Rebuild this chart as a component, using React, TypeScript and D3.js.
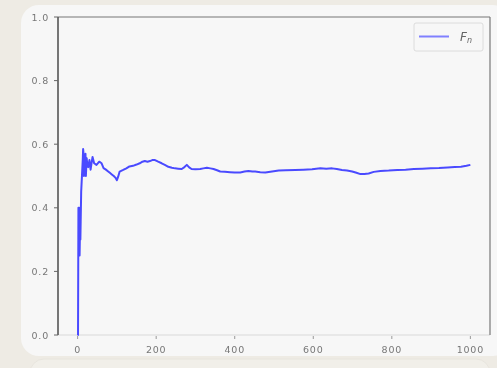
import * as d3 from 'd3';
import React from 'react';

// trial count n and running proportion F_n
const trialN = [0, 1, 2, 3, 4, 5, 6, 7, 9, 11, 13, 14, 15, 16, 17, 18, 20, 21, 23, 25, 27, 30, 33, 36, 38, 42, 48, 55, 61, 66, 72, 77, 82, 87, 92, 96, 100, 103, 107, 116, 124, 132, 141, 150, 158, 165, 171, 178, 184, 190, 197, 205, 214, 222, 231, 240, 248, 256, 265, 272, 278, 284, 290, 300, 312, 320, 329, 338, 346, 355, 363, 375, 388, 400, 414, 425, 435, 445, 452, 465, 478, 495, 512, 530, 554, 575, 597, 618, 633, 648, 660, 673, 686, 699, 710, 720, 730, 741, 754, 771, 792, 814, 835, 856, 878, 899, 920, 942, 960, 976, 990, 1000];
const runningMean = [0, 0, 0.4, 0.25, 0.4, 0.25, 0.33, 0.3, 0.45, 0.5, 0.55, 0.585, 0.57, 0.5, 0.56, 0.52, 0.57, 0.5, 0.556, 0.53, 0.528, 0.55, 0.52, 0.545, 0.56, 0.54, 0.535, 0.545, 0.54, 0.525, 0.52, 0.515, 0.51, 0.505, 0.5, 0.495, 0.487, 0.497, 0.514, 0.519, 0.524, 0.53, 0.532, 0.536, 0.54, 0.545, 0.547, 0.545, 0.547, 0.55, 0.55, 0.545, 0.54, 0.535, 0.529, 0.526, 0.524, 0.523, 0.522, 0.528, 0.535, 0.527, 0.522, 0.521, 0.522, 0.524, 0.526, 0.524, 0.522, 0.518, 0.514, 0.513, 0.512, 0.511, 0.511, 0.514, 0.516, 0.514, 0.514, 0.512, 0.511, 0.514, 0.517, 0.518, 0.519, 0.52, 0.521, 0.524, 0.523, 0.524, 0.522, 0.519, 0.517, 0.514, 0.51, 0.506, 0.506, 0.508, 0.513, 0.516, 0.517, 0.519, 0.52, 0.522, 0.523, 0.524, 0.525, 0.527, 0.528, 0.529, 0.532, 0.535];

const xTicks = [0, 200, 400, 600, 800, 1000];
const yTicks = [0.0, 0.2, 0.4, 0.6, 0.8, 1.0];

const W = 497;
const H = 368;
const left = 58, right = 490, top = 17, bottom = 335;

export default function App() {
  const x = d3.scaleLinear().domain([-50, 1050]).range([left, right]);
  const y = d3.scaleLinear().domain([0, 1]).range([bottom, top]);

  const pts: [number, number][] = trialN.map((n, i) => [n, runningMean[i]]);
  const line = d3.line<[number, number]>()
    .x(d => x(d[0]))
    .y(d => y(d[1]));

  const tickFont = { fontFamily: 'DejaVu Sans', fontSize: 9.5, fill: '#777', letterSpacing: 0.8 };

  return (
    <svg width={W} height={H} style={{ position: 'fixed', left: 0, top: 0, filter: 'blur(0.5px)' }}>
      <rect x={0} y={0} width={W} height={H} fill="#eeebe4" />
      {/* faint card below */}
      <rect x={30} y={359} width={460} height={30} rx={14} fill="#f1efe9" stroke="#e8e5de" />
      {/* main card */}
      <rect x={21} y={5} width={490} height={351} rx={18} fill="#f7f7f7" />

      {/* spines */}
      <line x1={left} x2={right} y1={bottom} y2={bottom} stroke="#dadada" strokeWidth={1.2} />
      <line x1={left} x2={right} y1={top} y2={top} stroke="#777" strokeWidth={1.2} />
      <line x1={right} x2={right} y1={top} y2={bottom} stroke="#777" strokeWidth={1.2} />
      <line x1={left} x2={left} y1={top} y2={bottom} stroke="#555" strokeWidth={1.6} />

      {yTicks.map(t => (
        <g key={'y' + t}>
          <line x1={left - 4} x2={left} y1={y(t)} y2={y(t)} stroke="#666" strokeWidth={1} />
          <text x={49} y={y(t) + 3.5} textAnchor="end" {...tickFont}>{t.toFixed(1)}</text>
        </g>
      ))}
      {xTicks.map(t => (
        <g key={'x' + t}>
          <line x1={x(t)} x2={x(t)} y1={bottom + 1} y2={bottom + 4} stroke="#999" strokeWidth={1} />
          <text x={x(t)} y={353} textAnchor="middle" {...tickFont}>{t}</text>
        </g>
      ))}

      <path d={line(pts) ?? ''} fill="none" stroke="#4a4aff" strokeWidth={2} strokeLinejoin="round" />

      {/* legend */}
      <rect x={414} y={23} width={69} height={28} rx={2} fill="#f7f7f7" stroke="#dcdcdc" />
      <line x1={419} x2={449} y1={36.5} y2={36.5} stroke="#8080ff" strokeWidth={2} />
      <text x={460} y={41} fontFamily="DejaVu Sans" fontStyle="italic" fontSize={12} fill="#666">
        F<tspan fontSize={8} dy={2}>n</tspan>
      </text>
    </svg>
  );
}
